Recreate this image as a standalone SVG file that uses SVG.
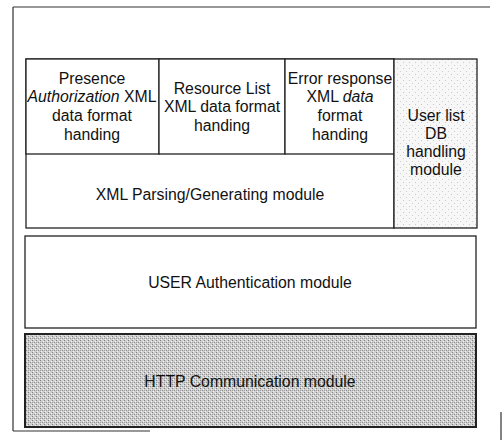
<svg xmlns="http://www.w3.org/2000/svg" width="502" height="443" viewBox="0 0 502 443">
<defs>
<pattern id="stipple" width="4" height="4" patternUnits="userSpaceOnUse">
<rect width="4" height="4" fill="#cfcfcf"/>
<rect x="0" y="0" width="1" height="1" fill="#7f7f7f"/>
<rect x="2" y="2" width="1" height="1" fill="#8f8f8f"/>
<rect x="0" y="2" width="1" height="1" fill="#a0a0a0"/>
<rect x="1" y="3" width="1" height="1" fill="#f0f0f0"/>
<rect x="3" y="1" width="1" height="1" fill="#f0f0f0"/>
</pattern>
<pattern id="light" width="6" height="6" patternUnits="userSpaceOnUse">
<rect width="6" height="6" fill="#f7f7f7"/>
<rect x="1" y="2" width="1" height="1" fill="#c8c8c8"/>
<rect x="4" y="5" width="1" height="1" fill="#d0d0d0"/>
</pattern>
</defs>
<style>
.box{stroke:#222;stroke-width:1.3;fill:#fff}
.t{font-family:"Liberation Sans",Arial,sans-serif;font-size:15.8px;fill:#111;text-anchor:middle}
.i{font-style:italic}
.frame{stroke:#333;stroke-width:1.2;fill:none}
</style>
<rect width="502" height="443" fill="#fff"/>
<g id="frame">
<path class="frame" d="M13,7 H490 M13,7 V431 M13,431 H150 M501,412 V440"/>
</g>
<g id="xml-parsing">
<rect class="box" x="26" y="59" width="368" height="169"/>
<text class="t" x="210" y="200">XML Parsing/Generating module</text>
</g>
<g id="presence">
<rect class="box" x="26" y="59" width="133" height="95"/>
<text class="t" x="92" y="84">Presence</text>
<text class="t" x="92" y="102"><tspan class="i">Authorization</tspan> XML</text>
<text class="t" x="92" y="121">data format</text>
<text class="t" x="92" y="140">handing</text>
</g>
<g id="resource-list">
<rect class="box" x="159" y="59" width="126" height="95"/>
<text class="t" x="222" y="94">Resource List</text>
<text class="t" x="222" y="112">XML data format</text>
<text class="t" x="222" y="131">handing</text>
</g>
<g id="error-response">
<rect class="box" x="285" y="59" width="109" height="95"/>
<text class="t" x="340" y="84">Error response</text>
<text class="t" x="340" y="102">XML <tspan class="i">data</tspan></text>
<text class="t" x="340" y="121">format</text>
<text class="t" x="340" y="140">handing</text>
</g>
<g id="user-list-db">
<rect class="box" x="394" y="59" width="83" height="169" style="fill:url(#light)"/>
<text class="t" x="436" y="121">User list</text>
<text class="t" x="436" y="139">DB</text>
<text class="t" x="436" y="157">handling</text>
<text class="t" x="436" y="175">module</text>
</g>
<g id="user-auth">
<rect class="box" x="25" y="236" width="451" height="92"/>
<text class="t" x="250" y="288">USER Authentication module</text>
</g>
<g id="http">
<rect class="box" x="25" y="334" width="451" height="93" style="fill:url(#stipple);stroke-width:2"/>
<text class="t" x="250" y="387">HTTP Communication module</text>
</g>
<g id="connectors"/>
</svg>
